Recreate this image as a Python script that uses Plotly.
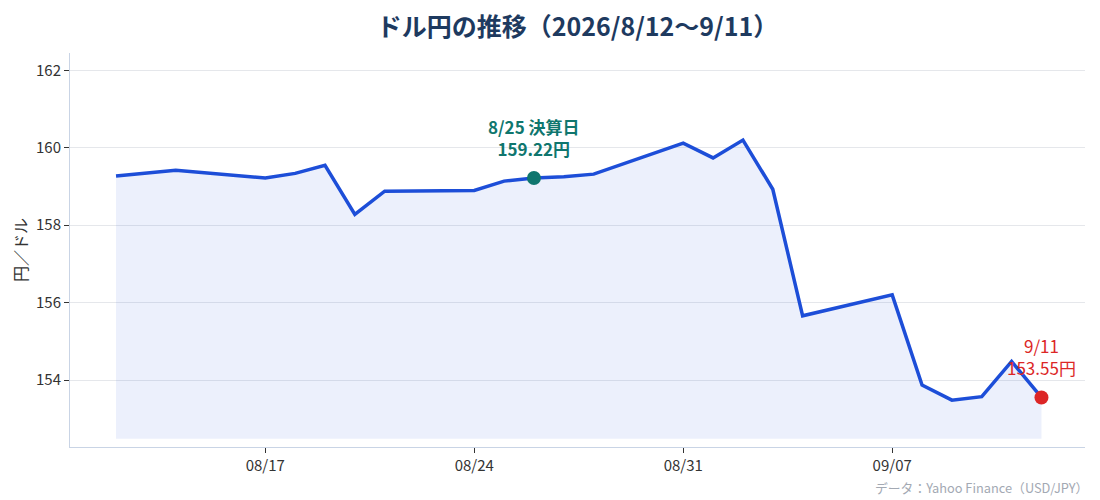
import plotly.graph_objects as go

dates = [
    "2026-08-12", "2026-08-13", "2026-08-14",
    "2026-08-17", "2026-08-18", "2026-08-19", "2026-08-20", "2026-08-21",
    "2026-08-24", "2026-08-25", "2026-08-26", "2026-08-27", "2026-08-28",
    "2026-08-31", "2026-09-01", "2026-09-02", "2026-09-03", "2026-09-04",
    "2026-09-07", "2026-09-08", "2026-09-09", "2026-09-10", "2026-09-11", "2026-09-12",
]
rates = [
    159.27, 159.34, 159.42,
    159.22, 159.34, 159.55, 158.28, 158.88,
    158.90, 159.14, 159.22, 159.25, 159.32,
    160.12, 159.74, 160.20, 158.93, 155.66,
    156.20, 153.87, 153.48, 153.57, 154.48, 153.55,
]
event_index = 10
event_label = "8/25 決算日"
last_label = "9/11"
title_text = "ドル円の推移（2026/8/12〜9/11）"
source_text = "データ：Yahoo Finance（USD/JPY）"
y_ticks = [154, 156, 158, 160, 162]

FONT = "Noto Sans CJK JP"
LINE = "#1d4ed8"
TEAL = "#0f766e"
RED = "#dc2626"

base = min(rates) - 1

fig = go.Figure()
fig.add_trace(go.Scatter(x=dates, y=[base] * len(dates), mode="lines",
                         line=dict(width=0), hoverinfo="skip", showlegend=False))
fig.add_trace(go.Scatter(x=dates, y=rates, mode="lines",
                         line=dict(color=LINE, width=3.5),
                         fill="tonexty", fillcolor="rgba(29,78,216,0.085)",
                         showlegend=False))
fig.add_trace(go.Scatter(x=[dates[event_index]], y=[rates[event_index]], mode="markers",
                         marker=dict(color=TEAL, size=14), showlegend=False))
fig.add_trace(go.Scatter(x=[dates[-1]], y=[rates[-1]], mode="markers",
                         marker=dict(color=RED, size=14), showlegend=False))

fig.add_annotation(x=dates[event_index], y=rates[event_index],
                   text=f"{event_label}<br>{rates[event_index]:.2f}円",
                   showarrow=False, yanchor="bottom", yshift=15,
                   font=dict(family=FONT, size=17, color=TEAL, weight="bold"))
fig.add_annotation(x=dates[-1], y=rates[-1],
                   text=f"{last_label}<br>{rates[-1]:.2f}円",
                   showarrow=False, yanchor="bottom", yshift=15,
                   font=dict(family=FONT, size=17, color=RED))
fig.add_annotation(x=1, xref="paper", xanchor="right", xshift=5,
                   y=-0.104, yref="paper", yanchor="middle",
                   text=source_text, showarrow=False,
                   font=dict(family=FONT, size=12.8, color="#a3a9b3"))

fig.update_layout(
    width=1100, height=500,
    margin=dict(l=62, r=23, t=45, b=61),
    paper_bgcolor="white", plot_bgcolor="white",
    font=dict(family=FONT, color="#333333"),
    title=dict(text=title_text, xref="paper", x=0.5, xanchor="center",
               y=0.962, yanchor="middle",
               font=dict(family=FONT, size=25, color="#1e3a5f", weight="bold")),
    xaxis=dict(range=["2026-08-10 11:00", "2026-09-13 11:00"],
               tick0="2026-08-17", dtick=7 * 24 * 3600 * 1000, tickformat="%m/%d",
               showgrid=False, showline=True, linecolor="#c9d4e5", linewidth=1,
               ticks="outside", ticklen=5, tickcolor="#333333",
               tickfont=dict(size=15, color="#333333"), zeroline=False),
    yaxis=dict(range=[152.27, 162.45], tickvals=y_ticks,
               showgrid=True, gridcolor="#e5e7eb", gridwidth=1,
               showline=True, linecolor="#c9d4e5", linewidth=1,
               ticks="outside", ticklen=5, tickcolor="#333333",
               tickfont=dict(size=15, color="#333333"), zeroline=False,
               title=dict(text="円／ドル", font=dict(size=16, color="#333333"), standoff=6)),
)

fig.write_html("out.html")
